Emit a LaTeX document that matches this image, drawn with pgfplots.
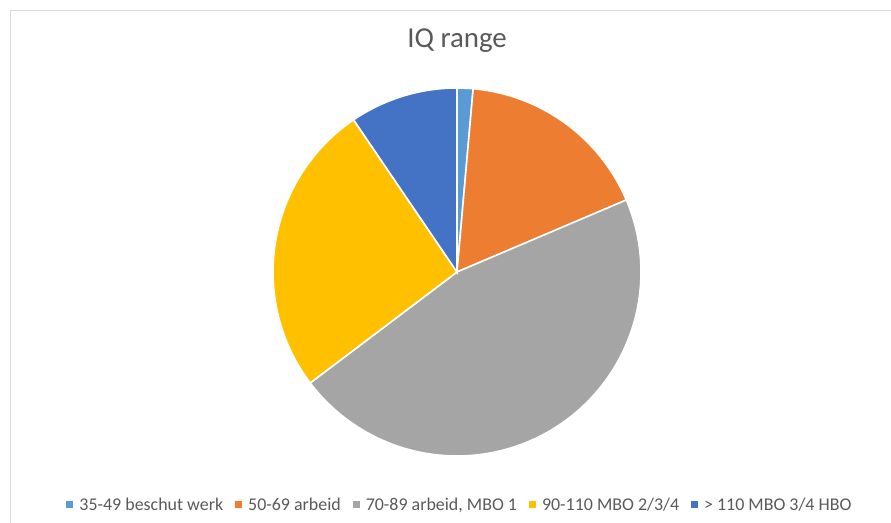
\documentclass[border=0pt]{standalone}
\usepackage{fontspec}
\setmainfont{Carlito}
\usepackage{pgfplots}
\pgfplotsset{compat=1.18}
\definecolor{cA}{HTML}{5B9BD5}
\definecolor{cB}{HTML}{ED7D31}
\definecolor{cC}{HTML}{A5A5A5}
\definecolor{cD}{HTML}{FFC000}
\definecolor{cE}{HTML}{4472C4}
\definecolor{txt}{HTML}{595959}
% shares in percent
\def\vA{1.4}\def\vB{17.2}\def\vC{46.1}\def\vD{25.8}\def\vE{9.5}
\pgfmathsetmacro\aA{0}
\pgfmathsetmacro\aB{\aA+3.6*\vA}
\pgfmathsetmacro\aC{\aB+3.6*\vB}
\pgfmathsetmacro\aD{\aC+3.6*\vC}
\pgfmathsetmacro\aE{\aD+3.6*\vD}
\pgfmathsetmacro\aF{\aE+3.6*\vE}
\begin{document}
\begin{tikzpicture}
\path[use as bounding box] (0,0) rectangle (891bp,523bp);
\draw[black!15, line width=1bp] (10.5bp,0) -- (10.5bp,512bp) -- (891bp,512bp);
\begin{axis}[at={(457bp,251bp)}, anchor=center, scale only axis,
  width=368bp, height=368bp, xmin=-1, xmax=1, ymin=-1, ymax=1,
  hide axis, clip=false,
  title={IQ range},
  title style={at={(axis cs:0,1.190)}, anchor=base, text=txt, font=\fontsize{29}{33}\selectfont},
  legend columns=5,
  legend image code/.code={\fill[#1, draw=none] (0bp,-3.5bp) rectangle (7bp,3.5bp);},
  legend style={at={(axis cs:0.016,-1.266)}, anchor=center, draw=none, fill=none,
    text=txt, font=\fontsize{18}{21}\selectfont,
    /tikz/every odd column/.append style={column sep=4bp},
    /tikz/every even column/.append style={column sep=10bp}},
  ]
\addplot[fill=cA, draw=white, line width=1.6bp, domain=\aA:\aB, samples=10] ({sin(x)},{cos(x)}) -- (axis cs:0,0) -- cycle;
\addlegendentry{35-49 beschut werk}
\addplot[fill=cB, draw=white, line width=1.6bp, domain=\aB:\aC, samples=60] ({sin(x)},{cos(x)}) -- (axis cs:0,0) -- cycle;
\addlegendentry{50-69 arbeid}
\addplot[fill=cC, draw=white, line width=1.6bp, domain=\aC:\aD, samples=120] ({sin(x)},{cos(x)}) -- (axis cs:0,0) -- cycle;
\addlegendentry{70-89 arbeid, MBO 1}
\addplot[fill=cD, draw=white, line width=1.6bp, domain=\aD:\aE, samples=70] ({sin(x)},{cos(x)}) -- (axis cs:0,0) -- cycle;
\addlegendentry{90-110 MBO 2/3/4}
\addplot[fill=cE, draw=white, line width=1.6bp, domain=\aE:\aF, samples=40] ({sin(x)},{cos(x)}) -- (axis cs:0,0) -- cycle;
\addlegendentry{> 110 MBO 3/4 HBO}
\end{axis}
\end{tikzpicture}
\end{document}
